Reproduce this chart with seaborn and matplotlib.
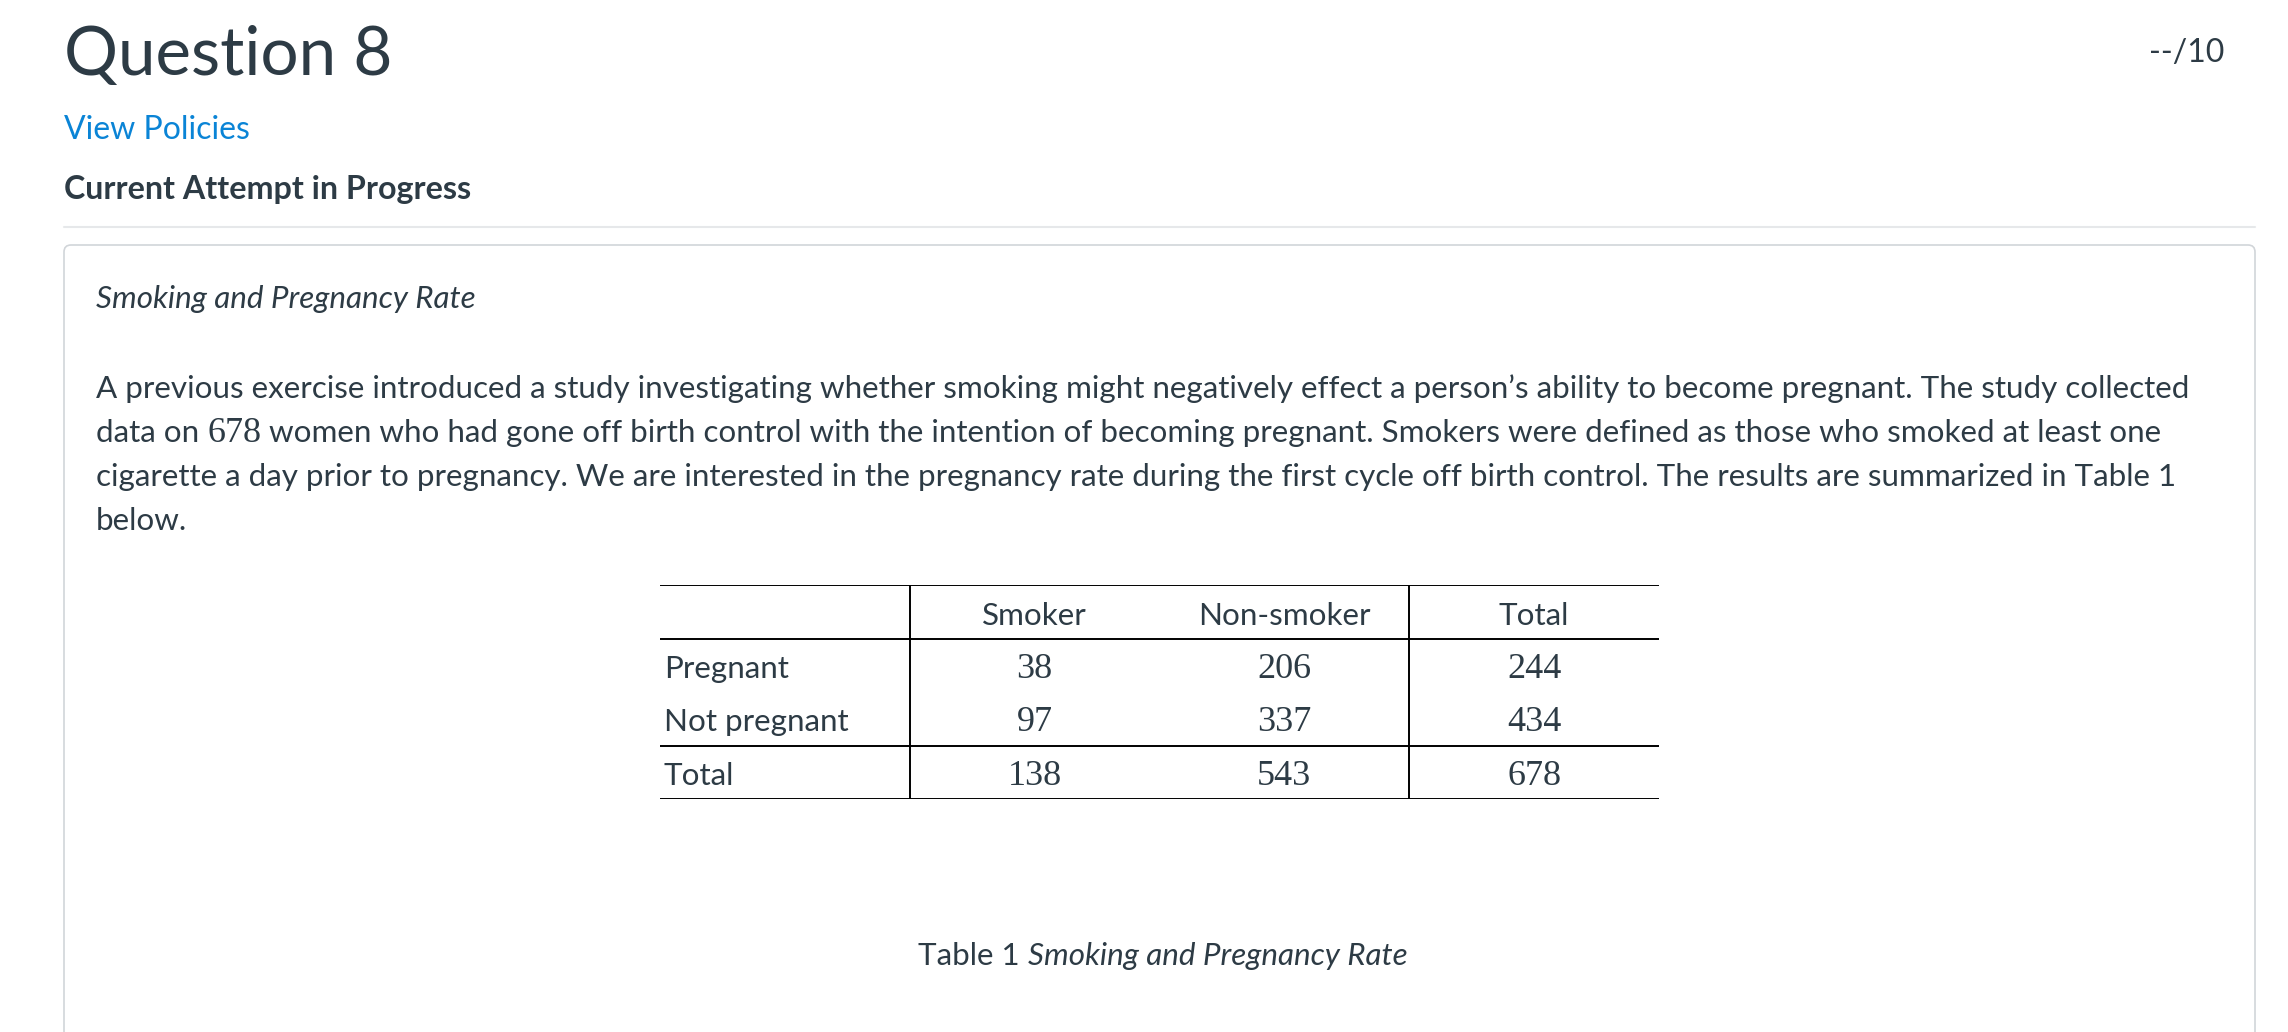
import matplotlib
matplotlib.use("Agg")
import matplotlib.pyplot as plt
from matplotlib.patches import FancyBboxPatch
import seaborn as sns

# table data
row_labels = ["Pregnant", "Not pregnant", "Total"]
col_labels = ["Smoker", "Non-smoker", "Total"]
smoker = [38, 97, 138]
non_smoker = [206, 337, 543]
row_total = [244, 434, 678]

paragraph = [
    ["A previous exercise introduced a study investigating whether smoking might negatively effect a person\u2019s ability to become pregnant. The study collected"],
    ["data on", "678", "women who had gone off birth control with the intention of becoming pregnant. Smokers were defined as those who smoked at least one"],
    ["cigarette a day prior to pregnancy. We are interested in the pregnancy rate during the first cycle off birth control. The results are summarized in Table 1"],
    ["below."],
]

sns.set_theme(style="white")
plt.rcParams["font.family"] = ["Lato", "DejaVu Sans"]

TXT = "#2D3B45"
SERIF = ["Liberation Serif", "DejaVu Serif"]
BODY = 22.55
NUM = 26
W, H = 2288, 1032

fig = plt.figure(figsize=(W / 100, H / 100), dpi=100)
fig.patch.set_facecolor("white")
ax = fig.add_axes([0, 0, 1, 1])
ax.set_xlim(0, W)
ax.set_ylim(H, 0)
ax.axis("off")
renderer = fig.canvas.get_renderer()


def px_width(t):
    return t.get_window_extent(renderer).width


# width of a space in the body font
t1 = ax.text(0, 500, "a a", fontsize=BODY)
t2 = ax.text(0, 500, "aa", fontsize=BODY)
space = px_width(t1) - px_width(t2)
t1.remove()
t2.remove()

# header of the page
ax.text(64, 75, "Question 8", fontsize=48.5, color=TXT, va="baseline")
ax.text(2224, 62, "--/10", fontsize=23, color=TXT, ha="right", va="baseline")
ax.text(64, 139, "View Policies", fontsize=23, color="#0A84D6", va="baseline")
ax.text(64, 199, "Current Attempt in Progress", fontsize=23.2, fontweight="bold",
        color=TXT, va="baseline")
ax.plot([64, 2255], [227, 227], color="#E6E8EA", lw=1.5)

box = FancyBboxPatch((64, 245), 2191, 900, boxstyle="round,pad=0,rounding_size=7",
                     fc="white", ec="#D1D5D9", lw=1.2)
ax.add_patch(box)

ax.text(96, 308, "Smoking and Pregnancy Rate", fontsize=BODY, style="italic",
        color=TXT, va="baseline")

for i, parts in enumerate(paragraph):
    y = 398 + 44 * i
    x = 96
    for part in parts:
        if part.isdigit():
            t = ax.text(x, y, part, fontsize=NUM, family=SERIF, color=TXT, va="baseline")
        else:
            t = ax.text(x, y, part, fontsize=BODY, color=TXT, va="baseline")
        x += px_width(t) + space

# table
tab = fig.add_axes([660 / W, 1 - 799 / H, 999 / W, 214 / H])
tab.set_xlim(0, 4)
tab.set_ylim(4, 0)
tab.axis("off")
tab.hlines([0, 1, 3, 4], 0, 4, color="black", lw=1.4)
tab.vlines([1, 3], 0, 4, color="black", lw=1.4)

for j, c in enumerate(col_labels):
    tab.text(1.5 + j, 0.74, c, fontsize=BODY, color=TXT, ha="center", va="baseline")

for i, lab in enumerate(row_labels):
    y = i + 1.73
    tab.text(0.016, y, lab, fontsize=BODY, color=TXT, va="baseline")
    for j, v in enumerate([smoker[i], non_smoker[i], row_total[i]]):
        tab.text(1.5 + j, y, str(v), fontsize=NUM, family=SERIF, color=TXT,
                 ha="center", va="baseline")

# caption
t = ax.text(918, 965, "Table 1", fontsize=BODY, color=TXT, va="baseline")
ax.text(918 + px_width(t) + space, 965, "Smoking and Pregnancy Rate", fontsize=BODY,
        style="italic", color=TXT, va="baseline")

fig.savefig("out.png", dpi=100, facecolor="white")
